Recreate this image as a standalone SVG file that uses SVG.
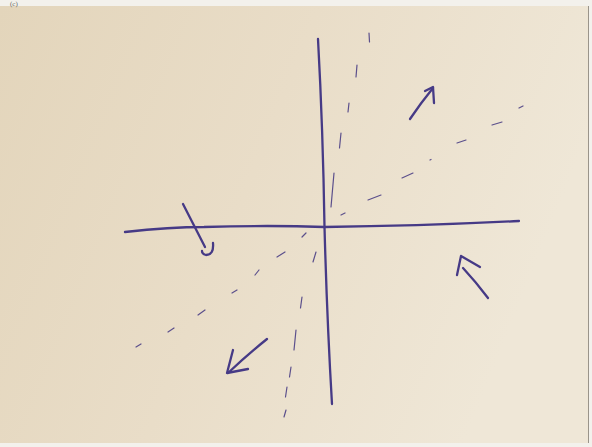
<svg xmlns="http://www.w3.org/2000/svg" width="592" height="447" viewBox="0 0 592 447">
<defs>
<linearGradient id="paper" x1="0" y1="0" x2="1" y2="0.3">
<stop offset="0" stop-color="#e3d5bb"/>
<stop offset="0.5" stop-color="#e9ddc8"/>
<stop offset="1" stop-color="#efe7d7"/>
</linearGradient>
<style>
.ink{fill:none;stroke:#463a86;stroke-width:2.3;stroke-linecap:round;stroke-linejoin:round}
.dash{fill:none;stroke:#5b4f8c;stroke-width:1.2;stroke-linecap:round}
</style>
</defs>
<rect x="0" y="0" width="592" height="447" fill="#f3f1ec"/>
<rect x="0" y="6" width="588" height="437" fill="url(#paper)"/>
<line x1="588.5" y1="6" x2="588.5" y2="443" stroke="#9a948a" stroke-width="1"/>
<text x="10" y="6" font-family="Liberation Serif, serif" font-size="7" fill="#666">(c)</text>
<g id="axes">
<path class="ink" d="M318,39 Q323,130 324.5,227 Q327,320 332,404"/>
<path class="ink" d="M125,232 Q170,227 204,227 Q270,225 324.5,227 Q420,226 519,221"/>
</g>
<g id="tick">
<path class="ink" d="M183,204 L205,247"/>
<path class="ink" d="M213,243 Q214,255 206,255 Q202,254 202,251"/>
</g>
<g id="dashed" class="dash">
<line x1="369" y1="33" x2="369.5" y2="42"/>
<line x1="357" y1="65" x2="356" y2="77"/>
<line x1="349" y1="103" x2="348" y2="112"/>
<line x1="341" y1="133" x2="339.5" y2="148"/>
<line x1="334" y1="173" x2="331" y2="207"/>
<line x1="341" y1="215" x2="345" y2="213"/>
<line x1="368" y1="200" x2="381" y2="195"/>
<line x1="402" y1="178" x2="413" y2="173"/>
<line x1="430" y1="160" x2="431" y2="159.5"/>
<line x1="457" y1="143" x2="466" y2="140"/>
<line x1="492" y1="125" x2="502" y2="122"/>
<line x1="519" y1="108" x2="523" y2="106"/>
<line x1="302" y1="237" x2="306" y2="233"/>
<line x1="277" y1="257" x2="285" y2="252"/>
<line x1="255" y1="275" x2="259" y2="270"/>
<line x1="232" y1="293" x2="237" y2="290"/>
<line x1="198" y1="315" x2="205" y2="310"/>
<line x1="168" y1="332" x2="174" y2="328"/>
<line x1="136" y1="347" x2="141" y2="344"/>
<line x1="316" y1="252" x2="313" y2="262"/>
<line x1="302" y1="297" x2="300.5" y2="308"/>
<line x1="296" y1="330" x2="294" y2="350"/>
<line x1="291" y1="367" x2="289.5" y2="377"/>
<line x1="287" y1="387" x2="285.5" y2="397"/>
<line x1="286" y1="410" x2="284" y2="417"/>
</g>
<g id="arrow-ne">
<path class="ink" d="M410,119 Q420,104 433,88"/>
<path class="ink" d="M425,91 L433,87 L434,103"/>
</g>
<g id="arrow-nw">
<path class="ink" d="M463,268 Q476,282 488,298"/>
<path class="ink" d="M457,275 L461,256 L480,267"/>
</g>
<g id="arrow-sw">
<path class="ink" d="M267,339 Q247,355 228,373"/>
<path class="ink" d="M233,350 L227,373 L248,369"/>
</g>
</svg>
